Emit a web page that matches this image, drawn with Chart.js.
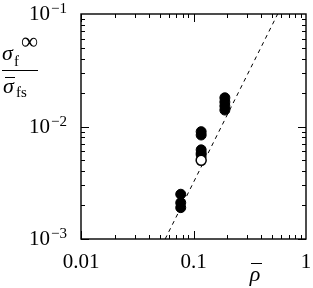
<!DOCTYPE html>
<html>
<head>
<meta charset="utf-8">
<script src="https://cdn.jsdelivr.net/npm/chart.js@4/dist/chart.umd.min.js"></script>
<style>
  html, body { margin: 0; padding: 0; background: #fff; }
  #wrap { width: 313px; height: 288px; }
</style>
</head>
<body>
<div id="wrap"><canvas id="chart" width="313" height="288"></canvas></div>
<script>
// measured points (filled symbols)
const filledRho = [0.077, 0.077, 0.077, 0.117, 0.117, 0.117, 0.117, 0.117, 0.19, 0.19, 0.19, 0.19];
const filledSigma = [0.0025, 0.0021, 0.0019, 0.0090, 0.0084, 0.0062, 0.0058, 0.0056, 0.018, 0.0165, 0.0152, 0.014];
// open symbol
const openRho = [0.117];
const openSigma = [0.0050];
// dashed guide line (slope 2)
const fitRho = [0.056, 0.56];
const fitSigma = [0.001, 0.1];
// axis ticks
const xTickValues = [0.01, 0.1, 1];
const xTickLabels = ['0.01', '0.1', '1'];
const yTickValues = [0.1, 0.01, 0.001];
const yTickExponents = ['\u22121', '\u22122', '\u22123'];

const SERIF = '"Liberation Serif", "DejaVu Serif", serif';

const toPoints = (xs, ys) => xs.map((v, i) => ({ x: v, y: ys[i] }));

const framePlugin = {
    id: 'frame',
    afterDraw(chart) {
        const { ctx, chartArea: a, scales: { x, y } } = chart;
        ctx.save();
        ctx.strokeStyle = '#000';
        ctx.fillStyle = '#000';

        // inner ticks on all four sides
        ctx.lineWidth = 1;
        ctx.beginPath();
        [0.01, 0.1].forEach(dec => {
            for (let m = 1; m <= 9; m++) {
                const px = Math.round(x.getPixelForValue(dec * m)) + 0.5;
                const len = m === 1 ? 8 : 4;
                ctx.moveTo(px, a.bottom); ctx.lineTo(px, a.bottom - len);
                ctx.moveTo(px, a.top); ctx.lineTo(px, a.top + len);
            }
        });
        [0.001, 0.01].forEach(dec => {
            for (let m = 1; m <= 9; m++) {
                const py = Math.round(y.getPixelForValue(dec * m)) + 0.5;
                const len = m === 1 ? 8 : 4;
                ctx.moveTo(a.left, py); ctx.lineTo(a.left + len, py);
                ctx.moveTo(a.right, py); ctx.lineTo(a.right - len, py);
            }
        });
        ctx.stroke();

        // frame
        ctx.lineWidth = 1.4;
        ctx.strokeRect(a.left, a.top, a.right - a.left, a.bottom - a.top);

        // x tick labels
        ctx.font = '21px ' + SERIF;
        ctx.textAlign = 'center';
        ctx.textBaseline = 'alphabetic';
        xTickValues.forEach((v, i) => {
            ctx.fillText(xTickLabels[i], x.getPixelForValue(v), 268);
        });

        // y tick labels 10^n
        yTickValues.forEach((v, i) => {
            const py = y.getPixelForValue(v);
            ctx.font = '15px ' + SERIF;
            const ew = ctx.measureText(yTickExponents[i]).width;
            ctx.textAlign = 'left';
            ctx.fillText(yTickExponents[i], 67 - ew, py - 1);
            ctx.font = '21px ' + SERIF;
            const bw = ctx.measureText('10').width;
            ctx.fillText('10', 67 - ew - bw - 1, py + 6);
        });

        // x axis title: rho bar
        ctx.font = 'italic 22px ' + SERIF;
        ctx.textAlign = 'center';
        ctx.fillText('\u03c1', 255, 281);
        ctx.lineWidth = 1;
        ctx.beginPath();
        ctx.moveTo(251, 263.5); ctx.lineTo(262, 263.5);
        ctx.stroke();

        // y axis title: sigma_f^inf / sigma-bar_fs
        ctx.textAlign = 'left';
        ctx.font = 'italic 22px ' + SERIF;
        ctx.fillText('\u03c3', 2, 60);
        ctx.font = '15px ' + SERIF;
        ctx.fillText('f', 14, 66);
        ctx.font = '24px ' + SERIF;
        ctx.fillText('\u221e', 21, 49);
        ctx.lineWidth = 1;
        ctx.beginPath();
        ctx.moveTo(2, 70.5); ctx.lineTo(38, 70.5);
        ctx.stroke();
        ctx.font = 'italic 22px ' + SERIF;
        ctx.fillText('\u03c3', 3, 93);
        ctx.beginPath();
        ctx.moveTo(5, 77.5); ctx.lineTo(15, 77.5);
        ctx.stroke();
        ctx.font = '15px ' + SERIF;
        ctx.fillText('fs', 16, 97);

        ctx.restore();
    }
};

new Chart(document.getElementById('chart'), {
    type: 'scatter',
    data: {
        datasets: [
            {
                label: 'open',
                data: toPoints(openRho, openSigma),
                pointRadius: 5,
                pointBackgroundColor: '#fff',
                pointBorderColor: '#000',
                pointBorderWidth: 1.5,
                order: 0
            },
            {
                label: 'filled',
                data: toPoints(filledRho, filledSigma),
                pointRadius: 5,
                pointBackgroundColor: '#000',
                pointBorderColor: '#000',
                pointBorderWidth: 1,
                order: 1
            },
            {
                label: 'fit',
                type: 'line',
                data: toPoints(fitRho, fitSigma),
                borderColor: '#000',
                borderWidth: 1,
                borderDash: [4, 4],
                pointRadius: 0,
                fill: false,
                order: 2
            }
        ]
    },
    options: {
        responsive: false,
        animation: false,
        devicePixelRatio: 1,
        layout: { padding: { left: 81, right: 7, top: 14, bottom: 49 } },
        plugins: {
            legend: { display: false },
            tooltip: { enabled: false }
        },
        scales: {
            x: { type: 'logarithmic', min: 0.01, max: 1, display: false },
            y: { type: 'logarithmic', min: 0.001, max: 0.1, display: false }
        }
    },
    plugins: [framePlugin]
});
</script>
</body>
</html>
